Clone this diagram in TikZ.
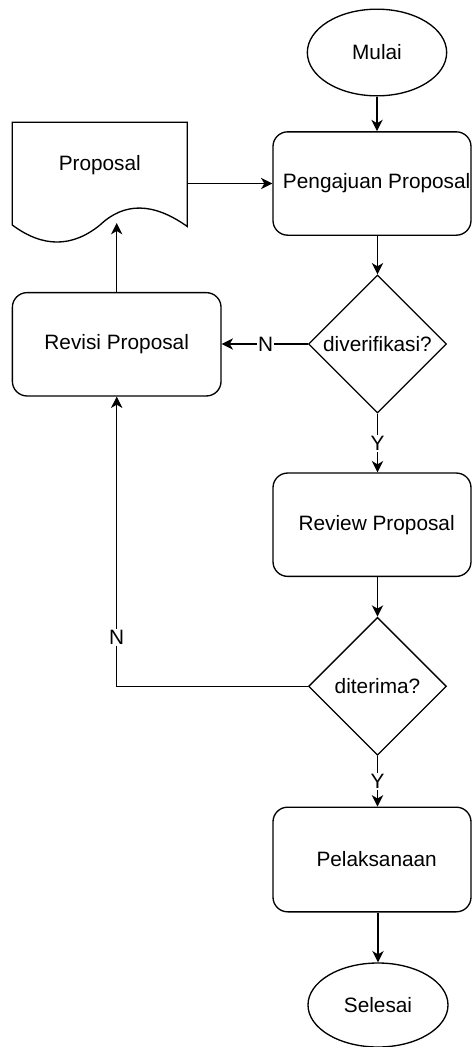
\documentclass[tikz,border=0pt]{standalone}
\usepackage{fontspec}
\setmainfont{Liberation Sans}
\usetikzlibrary{shapes.geometric,arrows.meta}
\begin{document}
\begin{tikzpicture}[x=0.75pt,y=-0.75pt,
  every node/.style={font=\fontsize{15.6}{18}\selectfont, text=black},
  line/.style={draw=black, line width=1pt},
  procbox/.style={line, rounded corners=11pt, rectangle, minimum width=148.5pt, minimum height=77.5pt, inner sep=0pt, align=center},
  term/.style={line, ellipse, minimum width=104.5pt, minimum height=65pt, inner sep=0pt},
  decision/.style={line, diamond, aspect=1, minimum width=103.5pt, minimum height=103.5pt, inner sep=0pt},
  conn/.style={line, -{Stealth[length=8.5pt, width=8.5pt, inset=2.5pt]}},
  lbl/.style={fill=white, inner sep=1pt}
]
\useasboundingbox (0,0) rectangle (472,1047);

% nodes
\node[term] (mulai) at (377,52.5) {Mulai};
\node[procbox] (peng) at (372,183.5) {\hspace*{7pt}Pengajuan Proposal};
\node[decision] (div) at (377.5,344) {diverifikasi?};
\node[procbox, minimum width=156.5pt] (rev) at (116.7,344.3) {Revisi Proposal};
\node[procbox] (review) at (372,524.7) {\hspace*{7pt}Review Proposal};
\node[decision] (dit) at (377.5,686.3) {diterima?};
\node[procbox, minimum height=78.5pt] (pel) at (372,859.5) {\hspace*{7pt}Pelaksanaan};
\node[term, minimum width=105pt, minimum height=63pt] (sel) at (378,1005) {Selesai};

% document shape
\draw[line] (12.3,122.3) -- (187.3,122.3) -- (187.3,226.5)
  .. controls (153.3,202.3) and (124.3,202) .. (100,225)
  .. controls (72,247.7) and (42.7,247.7) .. (12.3,225) -- cycle;
\node (doctext) at (99.8,165) {Proposal};
\coordinate (docR) at (187.3,183.5);
\coordinate (docB) at (116.7,223);
\coordinate (bend) at (116.7,686.3);

% connectors
\draw[conn] (mulai.south) -- (mulai.south |- peng.north);
\draw[conn] (docR) -- (docR -| peng.west);
\draw[conn] (peng.south -| div.north) -- (div.north);
\draw[conn] (div.west) -- node[lbl, pos=0.49] (nlab1) {N} (div.west -| rev.east);
\draw[conn] (div.south) -- node[lbl, pos=0.5] (ylab1) {Y} (div.south |- review.north);
\draw[conn] (review.south -| dit.north) -- (dit.north);
\draw[conn] (dit.west) -- (bend) -- node[lbl, pos=0.17] (nlab2) {N} (bend |- rev.south);
\draw[conn] (dit.south) -- node[lbl, pos=0.5] (ylab2) {Y} (dit.south |- pel.north);
\draw[conn] (pel.south -| sel.north) -- (sel.north);
\draw[conn] (rev.north) -- (docB);
\end{tikzpicture}
\end{document}
